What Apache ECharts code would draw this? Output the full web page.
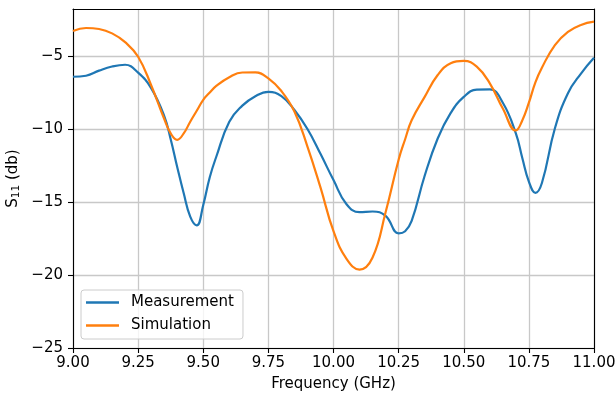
<!DOCTYPE html>
<html>
<head>
<meta charset="utf-8">
<script src="https://cdn.jsdelivr.net/npm/echarts@6/dist/echarts.min.js"></script>
<style>
  html, body { margin: 0; padding: 0; background: #fff; }
  #chart { width: 616px; height: 398px; }
</style>
</head>
<body>
<div id="chart"></div>
<script>
// Frequency sweep points (GHz)
const freq = [
  9.00, 9.05, 9.10, 9.15, 9.20, 9.25, 9.30, 9.35, 9.375, 9.40, 9.425, 9.45, 9.475,
  9.50, 9.525, 9.55, 9.60, 9.65, 9.70, 9.75, 9.80, 9.85, 9.90, 9.95,
  10.00, 10.05, 10.10, 10.15, 10.20, 10.25, 10.275, 10.30, 10.35, 10.40, 10.45,
  10.50, 10.55, 10.60, 10.65, 10.70, 10.725, 10.75, 10.775, 10.80, 10.85, 10.90, 10.95, 11.00
];

// Measured S11 (dB)
const measurement = [
  -6.42, -6.35, -6.00, -5.72, -5.60, -6.14, -7.20, -9.10, -10.70, -12.60, -14.40, -16.00, -16.60,
  -15.20, -13.30, -11.90, -9.50, -8.40, -7.75, -7.45, -7.75, -8.70, -10.00, -11.70,
  -13.50, -15.15, -15.70, -15.65, -15.95, -17.15, -17.00, -16.30, -13.20, -10.65, -8.90,
  -7.80, -7.30, -7.28, -8.20, -10.30, -12.00, -13.60, -14.37, -13.70, -9.95, -7.55, -6.20, -5.12
];

// Simulated S11 (dB)
const simulation = [
  -3.29, -3.08, -3.15, -3.45, -4.05, -5.05, -7.00, -9.30, -10.30, -10.74, -10.30, -9.50, -8.75,
  -8.00, -7.50, -7.05, -6.45, -6.13, -6.12, -6.53, -7.40, -8.80, -11.20, -14.00,
  -17.00, -18.90, -19.63, -18.80, -15.70, -12.10, -10.70, -9.40, -7.80, -6.30, -5.50,
  -5.34, -5.73, -6.87, -8.60, -10.10, -9.40, -8.20, -6.80, -5.80, -4.25, -3.35, -2.87, -2.65
];

// Axis ranges and tick positions
const xRange = [9.0, 11.0];
const xStep = 0.25;
const yRange = [-25, -1.78];
const yTickValues = [-25, -20, -15, -10, -5];

const FONT = 'DejaVu Sans';
const FS = 15;
const minus = s => s.replace('-', '\u2212');
const pairs = vals => freq.map((f, i) => [f, vals[i]]);

const chart = echarts.init(document.getElementById('chart'), null, { renderer: 'canvas' });

// Top and right spines of the frame
const frameAxis = {
  show: true,
  axisLine: { show: true, onZero: false, lineStyle: { color: '#000', width: 1.1 } },
  axisTick: { show: false },
  axisLabel: { show: false },
  splitLine: { show: false }
};

chart.setOption({
  animation: false,
  backgroundColor: '#fff',
  grid: { left: 73, right: 22, top: 9, bottom: 50, containLabel: false, outerBoundsMode: 'none' },
  legend: {
    orient: 'vertical',
    left: 81,
    top: 290,
    backgroundColor: 'rgba(255,255,255,0.8)',
    borderColor: '#cccccc',
    borderWidth: 1,
    borderRadius: 3,
    padding: [5, 9, 6, 5],
    itemGap: 8,
    itemWidth: 33,
    itemHeight: 2.5,
    icon: 'rect',
    textStyle: { fontFamily: FONT, fontSize: FS, color: '#000', padding: [0, 0, 0, 7] },
    data: ['Measurement', 'Simulation']
  },
  xAxis: [{
    type: 'value',
    min: xRange[0], max: xRange[1], interval: xStep,
    name: 'Frequency (GHz)',
    nameLocation: 'middle',
    nameGap: 29,
    nameMoveOverlap: false,
    nameTextStyle: { fontFamily: FONT, fontSize: FS, color: '#000' },
    axisLine: { show: true, onZero: false, lineStyle: { color: '#000', width: 1.1 } },
    axisTick: { show: true, inside: false, length: 5, lineStyle: { color: '#000', width: 1.1 } },
    axisLabel: {
      fontFamily: FONT, fontSize: FS, color: '#000', margin: 8,
      formatter: v => v.toFixed(2)
    },
    splitLine: { show: true, lineStyle: { color: '#c8c8c8', width: 1.3 } }
  }, Object.assign({ type: 'value', position: 'top', min: xRange[0], max: xRange[1] }, frameAxis)],
  yAxis: [{
    type: 'value',
    min: yRange[0], max: yRange[1],
    name: 'S{sub|11} (db)',
    nameLocation: 'middle',
    nameGap: 51,
    nameMoveOverlap: false,
    nameRotate: 90,
    nameTextStyle: {
      fontFamily: FONT, fontSize: FS, color: '#000',
      rich: { sub: { fontFamily: FONT, fontSize: 10.5, color: '#000', verticalAlign: 'bottom', padding: [7, 0, 0, 0] } }
    },
    axisLine: { show: true, onZero: false, lineStyle: { color: '#000', width: 1.1 } },
    axisTick: { show: true, inside: false, length: 5, customValues: yTickValues, lineStyle: { color: '#000', width: 1.1 } },
    axisLabel: {
      fontFamily: FONT, fontSize: FS, color: '#000', margin: 10,
      customValues: yTickValues,
      formatter: v => minus(String(v))
    },
    splitLine: { show: true, lineStyle: { color: '#c8c8c8', width: 1.3 } }
  }, Object.assign({ type: 'value', position: 'right', min: yRange[0], max: yRange[1] }, frameAxis)],
  series: [
    {
      name: 'Measurement',
      type: 'line',
      data: pairs(measurement),
      smooth: 0.45,
      showSymbol: false,
      symbol: 'none',
      color: '#1f77b4',
      lineStyle: { color: '#1f77b4', width: 2.2 },
      z: 3
    },
    {
      name: 'Simulation',
      type: 'line',
      data: pairs(simulation),
      smooth: 0.45,
      showSymbol: false,
      symbol: 'none',
      color: '#ff7f0e',
      lineStyle: { color: '#ff7f0e', width: 2.2 },
      z: 4
    }
  ]
});
</script>
</body>
</html>
